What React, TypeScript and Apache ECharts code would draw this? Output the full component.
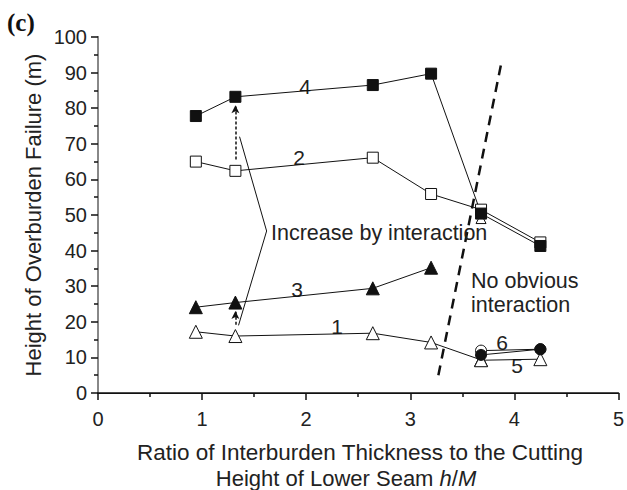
import React, { useEffect, useRef } from "react";
import * as echarts from "echarts";

const xTicks = [0, 1, 2, 3, 4, 5];
const s1X = [0.94, 1.32, 2.64, 3.2, 3.68];
const s1Y = [17.2, 16.0, 16.8, 14.2, 9.3];
const s2X = [0.94, 1.32, 2.64, 3.2, 3.68, 4.25];
const s2Y = [65.0, 62.4, 66.1, 55.9, 51.5, 42.3];
const s3X = [0.94, 1.32, 2.64, 3.2];
const s3Y = [24.1, 25.4, 29.4, 35.2];
const s4X = [0.94, 1.32, 2.64, 3.2, 3.68, 4.25];
const s4Y = [77.8, 83.2, 86.5, 89.7, 50.4, 41.3];
const s5X = [3.68, 4.25];
const s5Y = [9.2, 9.5];
const s6OpenX = [3.68, 4.25];
const s6OpenY = [11.9, 12.3];
const s6FillX = [3.68, 4.25];
const s6FillY = [10.7, 12.3];
const extraX = [3.68];
const extraY = [49.0];
const boundaryX = [3.27, 3.87];
const boundaryY = [5, 92];
const bracketX = [1.36, 1.62, 1.35];
const bracketY = [72, 45.5, 19];
const arrowUpper = [[1.32, 65.6], [1.32, 80.8]];
const arrowLower = [[1.32, 19.2], [1.32, 23.0]];

const zip = (xs: number[], ys: number[]) => xs.map((x, i) => [x, ys[i]]);

const FONT = "'Liberation Sans', Arial, sans-serif";
const INK = "#111";
const TXT = "#222";

export default function App() {
  const ref = useRef<HTMLDivElement>(null);
  useEffect(() => {
    if (!ref.current) return;
    const chart = echarts.init(ref.current, null, { renderer: "svg" });
    const thin = { color: INK, width: 1 };
    const openStyle = { color: "#fff", borderColor: INK, borderWidth: 1 };
    const fillStyle = { color: INK, borderColor: INK, borderWidth: 1 };
    const dataSeries = (
      name: string,
      data: number[][],
      symbol: string,
      size: number,
      item: any
    ) => ({
      name,
      type: "line",
      data,
      symbol,
      symbolSize: size,
      showAllSymbol: true,
      lineStyle: thin,
      itemStyle: item,
      z: 5,
    });
    const label = (text: string, x: number, y: number) => ({
      type: "text",
      x,
      y,
      style: { text, font: `21px ${FONT}`, fill: TXT, textAlign: "center", textVerticalAlign: "middle" },
    });
    chart.setOption({
      animation: false,
      grid: { left: 98, top: 37, width: 523, height: 356, show: false },
      xAxis: [
        {
          type: "value",
          min: 0,
          max: 5,
          interval: 1,
          axisLine: { show: true, lineStyle: { color: INK, width: 1.5 } },
          axisTick: { show: true, inside: false, length: 7, lineStyle: { color: INK, width: 1.5 } },
          minorTick: { show: true, splitNumber: 2, length: 4, lineStyle: { color: INK, width: 1.5 } },
          splitLine: { show: false },
          axisLabel: {
            fontSize: 20,
            color: TXT,
            fontFamily: FONT,
            margin: 16,
            formatter: (v: number) => (xTicks.includes(v) ? String(v) : ""),
          },
        },
        {
          type: "value",
          position: "top",
          min: 0,
          max: 5,
          axisLine: { show: true, lineStyle: { color: INK, width: 1 } },
          axisTick: { show: false },
          axisLabel: { show: false },
          splitLine: { show: false },
        },
      ],
      yAxis: [
        {
          type: "value",
          min: 0,
          max: 100,
          interval: 10,
          axisLine: { show: true, lineStyle: { color: INK, width: 1.5 } },
          axisTick: { show: true, inside: false, length: 7, lineStyle: { color: INK, width: 1.5 } },
          minorTick: { show: true, splitNumber: 2, length: 4, lineStyle: { color: INK, width: 1.5 } },
          splitLine: { show: false },
          axisLabel: { fontSize: 20, color: TXT, fontFamily: FONT, margin: 11 },
        },
        {
          type: "value",
          position: "right",
          min: 0,
          max: 100,
          axisLine: { show: true, lineStyle: { color: "#888", width: 2 } },
          axisTick: { show: false },
          axisLabel: { show: false },
          splitLine: { show: false },
        },
      ],
      series: [
        {
          name: "boundary",
          type: "line",
          data: zip(boundaryX, boundaryY),
          symbol: "none",
          lineStyle: { color: INK, width: 2.5, type: [10, 7] },
          z: 3,
        },
        {
          name: "bracket",
          type: "line",
          data: zip(bracketX, bracketY),
          symbol: "none",
          lineStyle: thin,
          z: 3,
          markLine: {
            silent: true,
            symbol: ["none", "arrow"],
            symbolSize: [6, 8],
            label: { show: false },
            lineStyle: { color: INK, width: 1.5, type: [3, 2] },
            data: [
              [{ coord: arrowUpper[0] }, { coord: arrowUpper[1] }],
              [{ coord: arrowLower[0] }, { coord: arrowLower[1] }],
            ],
          },
        },
        dataSeries("1", zip(s1X, s1Y), "triangle", 13, openStyle),
        dataSeries("2", zip(s2X, s2Y), "rect", 11, openStyle),
        dataSeries("3", zip(s3X, s3Y), "triangle", 13, fillStyle),
        dataSeries("extra", zip(extraX, extraY), "triangle", 10, openStyle),
        dataSeries("4", zip(s4X, s4Y), "rect", 11, fillStyle),
        dataSeries("5", zip(s5X, s5Y), "triangle", 13, openStyle),
        dataSeries("6 open", zip(s6OpenX, s6OpenY), "circle", 11, openStyle),
        dataSeries("6 filled", zip(s6FillX, s6FillY), "circle", 11, fillStyle),
      ],
      graphic: [
        {
          type: "text",
          x: 7,
          y: 22,
          style: {
            text: "(c)",
            font: "bold 25px 'Liberation Serif', 'Times New Roman', serif",
            fill: INK,
            textVerticalAlign: "middle",
          },
        },
        {
          type: "text",
          x: 33,
          y: 215,
          rotation: Math.PI / 2,
          style: {
            text: "Height of Overburden Failure (m)",
            font: `22px ${FONT}`,
            fill: TXT,
            textAlign: "center",
            textVerticalAlign: "middle",
          },
        },
        {
          type: "text",
          x: 360,
          y: 452,
          style: {
            text: "Ratio of Interburden Thickness to the Cutting",
            font: `22.5px ${FONT}`,
            fill: TXT,
            textAlign: "center",
            textVerticalAlign: "middle",
          },
        },
        {
          type: "text",
          x: 346,
          y: 478,
          style: {
            text: "Height of Lower Seam {i|h}/{i|M}",
            font: `22px ${FONT}`,
            fill: TXT,
            textAlign: "center",
            textVerticalAlign: "middle",
            rich: { i: { fontStyle: "italic", fontSize: 22, fontFamily: FONT, fill: TXT } },
          },
        },
        label("4", 305, 86),
        label("2", 299, 157),
        label("3", 297, 289),
        label("1", 337, 326),
        label("6", 502, 342),
        label("5", 517, 365),
        {
          type: "text",
          x: 271,
          y: 233,
          z: 10,
          style: { text: "Increase by interaction", font: `21.5px ${FONT}`, fill: TXT, textVerticalAlign: "middle" },
        },
        {
          type: "text",
          x: 471,
          y: 281,
          style: { text: "No obvious", font: `21.5px ${FONT}`, fill: TXT, textVerticalAlign: "middle" },
        },
        {
          type: "text",
          x: 471,
          y: 305,
          style: { text: "interaction", font: `21.5px ${FONT}`, fill: TXT, textVerticalAlign: "middle" },
        },
      ],
    });
    return () => chart.dispose();
  }, []);
  return (
    <div
      ref={ref}
      style={{ position: "fixed", left: 0, top: 0, width: 627, height: 490, background: "#fff" }}
    />
  );
}
